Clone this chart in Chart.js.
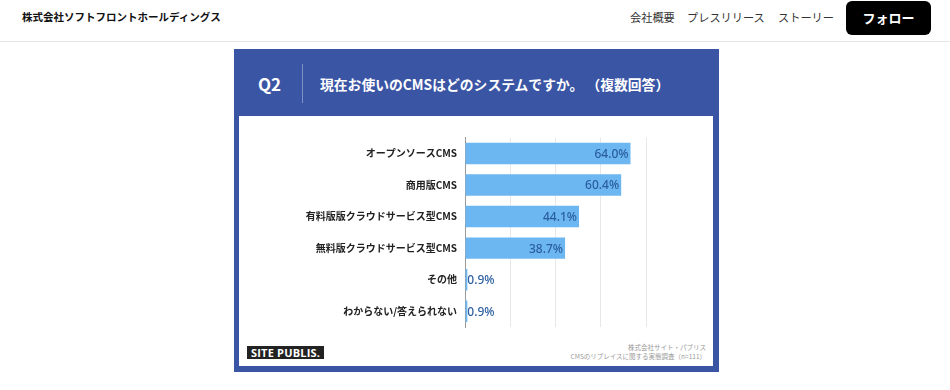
<!DOCTYPE html>
<html lang="ja">
<head>
<meta charset="utf-8">
<script src="https://cdn.jsdelivr.net/npm/chart.js@4/dist/chart.umd.min.js"></script>
<style>
    body { margin: 0; width: 950px; height: 390px; background: #fff; font-family: "Noto Sans CJK JP", sans-serif; position: relative; overflow: hidden; }
    .site-name { position: absolute; left: 22px; top: 9px; font-size: 10.5px; font-weight: bold; color: #111; }
    .nav { position: absolute; top: 9px; font-size: 11.2px; color: #333; }
    .follow { position: absolute; left: 846px; top: 1px; width: 85px; height: 34px; background: #000; border-radius: 6px; color: #fff; font-size: 13px; font-weight: bold; text-align: center; line-height: 34px; }
    .header-line { position: absolute; left: 0; top: 41px; width: 950px; height: 1px; background: #e6e6e6; }
    .card { position: absolute; left: 234px; top: 49px; width: 485px; height: 323px; background: #3b55a5; }
    .q { position: absolute; left: 258px; top: 72px; font-size: 17px; font-weight: bold; color: #fff; line-height: 24px; }
    .divider { position: absolute; left: 302px; top: 64px; width: 1px; height: 39px; background: rgba(255,255,255,0.35); }
    .title { position: absolute; left: 320px; top: 74px; font-size: 13.8px; font-weight: bold; color: #fff; line-height: 20px; }
    .inner { position: absolute; left: 239px; top: 116px; width: 474px; height: 250px; background: #fff; }
    #chartBox { position: absolute; left: 239px; top: 116px; width: 474px; height: 225px; }
    .logo { position: absolute; left: 247px; top: 346px; height: 13px; padding: 0 4px; background: #222; color: #fff; font-family: "Open Sans", sans-serif; font-weight: bold; font-size: 11px; line-height: 13px; letter-spacing: 0.2px; }
    .source { position: absolute; right: 244px; top: 343px; font-size: 6.5px; color: #999; text-align: right; line-height: 9px; }
</style>
</head>
<body>
<div class="site-name">株式会社ソフトフロントホールディングス</div>
<div class="nav" style="left:630px;">会社概要</div>
<div class="nav" style="left:687px;">プレスリリース</div>
<div class="nav" style="left:778px;">ストーリー</div>
<div class="follow">フォロー</div>
<div class="header-line"></div>

<div class="card"></div>
<div class="q">Q2</div>
<div class="divider"></div>
<div class="title">現在お使いのCMSはどのシステムですか。 （複数回答）</div>
<div class="inner"></div>
<div id="chartBox"><canvas id="cmsChart"></canvas></div>
<div class="logo">SITE PUBLIS.</div>
<div class="source">株式会社サイト・パブリス<br>CMSのリプレイスに関する実態調査（n=111）</div>

<script>
// カテゴリと値
const categories = [
    'オープンソースCMS',
    '商用版CMS',
    '有料版版クラウドサービス型CMS',
    '無料版クラウドサービス型CMS',
    'その他',
    'わからない/答えられない'
];
const values = [64.0, 60.4, 44.1, 38.7, 0.9, 0.9];

// 軸の最大値と目盛り間隔
const axisMax  = 70;
const axisStep = 17.5;

// 棒の端に数値を描くプラグイン
const valueLabels = {
    id: 'valueLabels',
    afterDatasetsDraw(chart) {
        const ctx  = chart.ctx;
        const meta = chart.getDatasetMeta(0);
        ctx.save();
        ctx.font = '500 12px "Noto Sans", sans-serif';
        ctx.fillStyle = '#2b5e9e';
        ctx.textBaseline = 'middle';
        meta.data.forEach(function(bar, i) {
            const text = values[i].toFixed(1) + '%';
            if (values[i] > 10) {
                ctx.textAlign = 'right';
                ctx.fillText(text, bar.x - 2, bar.y + 1);
            } else {
                ctx.textAlign = 'left';
                ctx.fillText(text, bar.x, bar.y + 1);
            }
        });
        ctx.restore();
    }
};

const ctx = document.getElementById('cmsChart').getContext('2d');
new Chart(ctx, {
    type: 'bar',
    data: {
        labels: categories,
        datasets: [{
            data: values,
            backgroundColor: '#6cb7f1',
            barPercentage: 0.68,
            categoryPercentage: 1
        }]
    },
    options: {
        indexAxis: 'y',
        responsive: true,
        maintainAspectRatio: false,
        animation: false,
        layout: {
            padding: { top: 21.7, right: 67, bottom: 9.3, left: 0 }
        },
        plugins: {
            legend: { display: false },
            tooltip: { enabled: false }
        },
        scales: {
            x: {
                min: 0,
                max: axisMax,
                ticks: { display: false, stepSize: axisStep },
                grid: { color: '#e8e8e8', drawTicks: false },
                border: { display: false }
            },
            y: {
                afterFit: function(scale) { scale.width = 226; },
                ticks: {
                    padding: 8,
                    color: '#222',
                    font: { family: '"Noto Sans CJK JP", sans-serif', size: 10, weight: 'bold' }
                },
                grid: { display: false, drawTicks: false },
                border: { color: '#9a9a9a', width: 1 }
            }
        }
    },
    plugins: [valueLabels]
});
</script>
</body>
</html>
